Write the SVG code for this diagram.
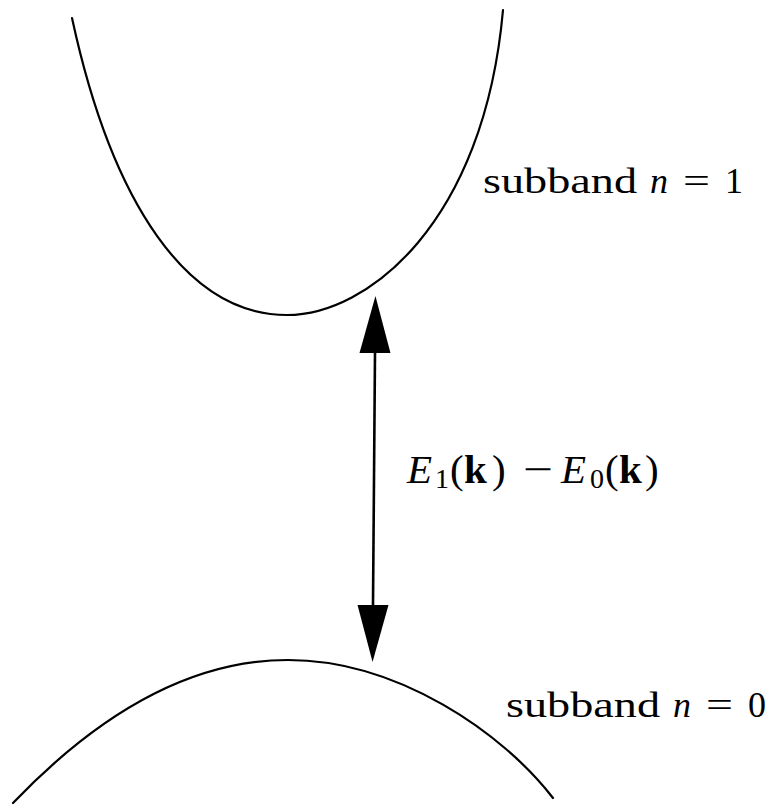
<svg xmlns="http://www.w3.org/2000/svg" width="776" height="805" viewBox="0 0 776 805">
<style>
.curve{fill:none;stroke:#000;stroke-width:2.2;stroke-linecap:round}
.shaft{fill:none;stroke:#000;stroke-width:2.6}
.lbl{font-family:"Liberation Serif","Times New Roman",serif;fill:#000}
.it{font-style:italic}
.bf{font-weight:bold}
</style>
<defs>
<marker id="head" markerUnits="userSpaceOnUse" markerWidth="60" markerHeight="34" viewBox="0 -17 60 34" refX="0" refY="0" orient="auto-start-reverse">
<path d="M0,-15.5 L57,0 L0,15.5 Z" fill="#000"/>
</marker>
</defs>
<rect width="776" height="805" fill="#fff"/>
<g id="subband1">
<path class="curve" d="M72,18 C112,203 187,315 287,315 C367,315 484,224 503,10"/>
<text class="lbl" font-size="36" y="193"><tspan x="483" textLength="154" lengthAdjust="spacingAndGlyphs">subband</tspan> <tspan x="650" class="it">n</tspan> <tspan x="683" textLength="27" lengthAdjust="spacingAndGlyphs">=</tspan> <tspan x="725">1</tspan></text>
</g>
<g id="subband0">
<path class="curve" d="M13,803 Q150,660 288,660 C398,660 503,733 553,798"/>
<text class="lbl" font-size="36" y="717"><tspan x="506" textLength="154" lengthAdjust="spacingAndGlyphs">subband</tspan> <tspan x="673" class="it">n</tspan> <tspan x="706" textLength="27" lengthAdjust="spacingAndGlyphs">=</tspan> <tspan x="748">0</tspan></text>
</g>
<g id="connectors">
<path class="shaft" d="M375,353 L373,605" marker-start="url(#head)" marker-end="url(#head)"/>
</g>
<g id="gap-label">
<text class="lbl" font-size="41" y="483"><tspan x="407" class="it">E</tspan><tspan x="435" font-size="28" dy="5">1</tspan><tspan x="450" dy="-5">(</tspan><tspan x="464" class="bf">k</tspan><tspan x="492">)</tspan> <tspan x="523" textLength="30" lengthAdjust="spacingAndGlyphs">−</tspan> <tspan x="561" class="it">E</tspan><tspan x="590" font-size="28" dy="5">0</tspan><tspan x="605" dy="-5">(</tspan><tspan x="619" class="bf">k</tspan><tspan x="645">)</tspan></text>
</g>
</svg>
